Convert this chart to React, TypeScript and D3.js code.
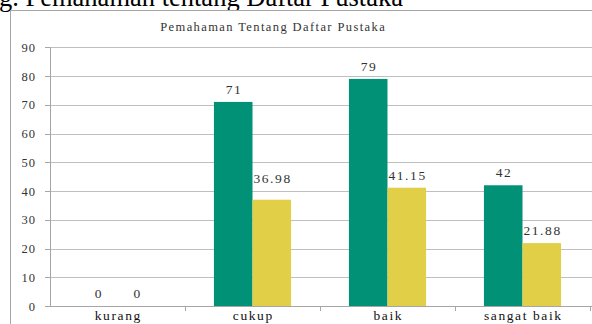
import React from "react";
import * as d3 from "d3";

// Category labels along the x axis
const categories = ["kurang", "cukup", "baik", "sangat baik"];
// First series: counts
const seriesCount = [0, 71, 79, 42];
// Second series: percentages
const seriesPercent = [0, 36.98, 41.15, 21.88];
// Y axis ticks
const yTicks = [0, 10, 20, 30, 40, 50, 60, 70, 80, 90];

const W = 592;
const H = 324;
const margin = { left: 50, right: 2, top: 47.3, bottom: 18 };
const GREEN = "#009176";
const YELLOW = "#e0cf47";
const SERIF = "'Liberation Serif', 'Times New Roman', serif";
const LS = 1.6; // letter spacing for the chart's spaced-out serif text

export default function App() {
  const x = d3
    .scaleBand<string>()
    .domain(categories)
    .range([margin.left, W - margin.right])
    .paddingInner(0)
    .paddingOuter(0);
  const y = d3
    .scaleLinear()
    .domain([0, 90])
    .range([H - margin.bottom, margin.top]);

  const bw = x.bandwidth();
  const barW = bw / 3.5; // 150% gap width
  const gap = (bw - 2 * barW) / 2;
  const series = [
    { values: seriesCount, color: GREEN, offset: 0 },
    { values: seriesPercent, color: YELLOW, offset: 1 },
  ];

  const fmt = (v: number) => (Number.isInteger(v) ? String(v) : v.toFixed(2));

  return (
    <svg
      width={W}
      height={H}
      style={{ position: "absolute", left: 0, top: 0, background: "#fff" }}
    >
      <text x={-1} y={5.5} fontFamily={SERIF} fontSize={26.5} fill="#000">
        g. Pemahaman tentang Daftar Pustaka
      </text>
      {/* chart frame */}
      <rect x={10.5} y={10.5} width={W} height={H} fill="#fff" stroke="#a6a6a6" strokeWidth={1} />
      <text
        x={272.5}
        y={30.5}
        dx={0.7}
        textAnchor="middle"
        fontFamily={SERIF}
        fontSize={12.5}
        letterSpacing={1.4}
        fill="#333"
      >
        Pemahaman Tentang Daftar Pustaka
      </text>

      {/* gridlines */}
      {yTicks.slice(1).map((t) => (
        <line
          key={t}
          x1={margin.left}
          x2={W}
          y1={Math.round(y(t)) + 0.5}
          y2={Math.round(y(t)) + 0.5}
          stroke="#bfbfbf"
          strokeWidth={1}
        />
      ))}

      {/* y axis */}
      <line
        x1={margin.left + 0.5}
        x2={margin.left + 0.5}
        y1={y(90)}
        y2={y(0)}
        stroke="#a6a6a6"
      />
      {yTicks.map((t) => (
        <g key={t}>
          <line
            x1={margin.left - 5}
            x2={margin.left}
            y1={Math.round(y(t)) + 0.5}
            y2={Math.round(y(t)) + 0.5}
            stroke="#a6a6a6"
          />
          <text
            x={margin.left - 14}
            y={y(t) + 4.5}
            textAnchor="end"
            fontFamily={SERIF}
            fontSize={12.5}
            letterSpacing={1}
            fill="#333"
          >
            {t}
          </text>
        </g>
      ))}

      {/* bars */}
      {series.map((s, si) =>
        categories.map((c, i) => {
          const v = s.values[i];
          const bx = (x(c) as number) + gap + s.offset * barW;
          return (
            <rect
              key={`${si}-${c}`}
              x={bx}
              y={y(v)}
              width={barW}
              height={y(0) - y(v)}
              fill={s.color}
            />
          );
        })
      )}

      {/* x axis */}
      <line
        x1={margin.left}
        x2={W}
        y1={Math.round(y(0)) + 0.5}
        y2={Math.round(y(0)) + 0.5}
        stroke="#a6a6a6"
      />
      {categories.map((c) => (
        <line
          key={`t-${c}`}
          x1={(x(c) as number) + bw + 0.5}
          x2={(x(c) as number) + bw + 0.5}
          y1={y(0)}
          y2={y(0) + 5}
          stroke="#a6a6a6"
        />
      ))}
      {categories.map((c) => (
        <text
          key={`l-${c}`}
          x={(x(c) as number) + bw / 2}
          y={y(0) + 14}
          dx={LS / 2}
          textAnchor="middle"
          fontFamily={SERIF}
          fontSize={13.5}
          letterSpacing={LS}
          fill="#111"
        >
          {c}
        </text>
      ))}

      {/* value labels */}
      {series.map((s, si) =>
        categories.map((c, i) => {
          const v = s.values[i];
          const cx = (x(c) as number) + gap + s.offset * barW + barW / 2;
          // the cukup percentage label sits a little higher
          const lift = si === 1 && i === 1 ? 9 : 0;
          return (
            <text
              key={`v-${si}-${c}`}
              x={cx}
              y={y(v) - 8 - lift}
              dx={LS / 2}
              textAnchor="middle"
              fontFamily={SERIF}
              fontSize={13.5}
              letterSpacing={LS}
              fill="#333"
            >
              {fmt(v)}
            </text>
          );
        })
      )}
    </svg>
  );
}
